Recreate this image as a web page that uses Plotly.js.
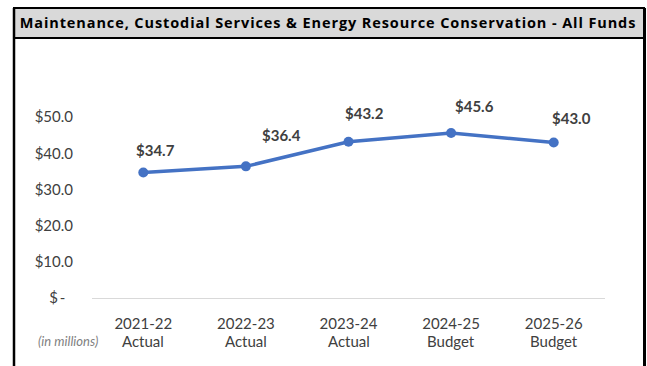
<!DOCTYPE html>
<html>
<head>
<meta charset="utf-8">
<script src="https://cdn.plot.ly/plotly-3.0.1.min.js"></script>
<style>
html,body{margin:0;padding:0;background:#fff;}
#chart{width:647px;height:366px;}
#chart .gtitle{letter-spacing:0.9px;}
</style>
</head>
<body>
<div id="chart"></div>
<script>
// ---- data ----
const years = ["2021-22", "2022-23", "2023-24", "2024-25", "2025-26"];
const kinds = ["Actual", "Actual", "Actual", "Budget", "Budget"];
const values = [34.7, 36.4, 43.2, 45.6, 43.0];
const valueLabels = ["$34.7", "$36.4", "$43.2", "$45.6", "$43.0"];
const yTickVals = [0, 10, 20, 30, 40, 50];
const yTickText = ["$\u2009-\u00a0\u00a0", "$10.0", "$20.0", "$30.0", "$40.0", "$50.0"];
const unitNote = "(in millions)";

// ---- layout geometry ----
const W = 647, H = 366;
const M = {l: 92, r: 42, t: 81, b: 68};
const PW = W - M.l - M.r, PH = H - M.t - M.b;
const px = x => (x - M.l) / PW;
const py = y => (H - M.b - y) / PH;

const labelDx = [12, 36, 16, 23, 18];
const labelDy = [23, 31, 29, 27, 24];

const annotations = [];
years.forEach((c, i) => {
  annotations.push({
    x: c, y: values[i], xref: 'x', yref: 'y',
    text: valueLabels[i], showarrow: false,
    xshift: labelDx[i], yshift: labelDy[i],
    font: {family: 'Lato', size: 15, color: '#404040', weight: 'bold'}
  });
  annotations.push({
    x: c, y: 0, xref: 'x', yref: 'paper',
    text: kinds[i], showarrow: false, yanchor: 'middle',
    yshift: -43,
    font: {family: 'Lato', size: 15, color: '#404040'}
  });
});
annotations.push({
  x: px(67.5), y: 0, xref: 'paper', yref: 'paper', xanchor: 'center', yanchor: 'middle',
  yshift: -43, text: '<i>' + unitNote + '</i>', showarrow: false,
  font: {family: 'Lato', size: 13, color: '#7f7f7f'}
});

const shapes = [
  {type: 'rect', xref: 'paper', yref: 'paper', x0: px(14), x1: px(644), y0: py(8), y1: py(38),
   fillcolor: '#d9d9d9', line: {color: '#000', width: 2}, layer: 'below'},
  {type: 'line', xref: 'paper', yref: 'paper', x0: px(14), x1: px(14), y0: py(8), y1: py(370),
   line: {color: '#000', width: 2.5}},
  {type: 'line', xref: 'paper', yref: 'paper', x0: px(644.5), x1: px(644.5), y0: py(8), y1: py(370),
   line: {color: '#000', width: 3}}
];

const trace = {
  type: 'scatter', mode: 'lines+markers',
  x: years, y: values,
  line: {color: '#4472C4', width: 3.5},
  marker: {color: '#4472C4', size: 10},
  hoverinfo: 'skip'
};

const layout = {
  width: W, height: H,
  margin: M,
  paper_bgcolor: '#fff', plot_bgcolor: 'rgba(0,0,0,0)',
  showlegend: false,
  title: {
    text: '<b>Maintenance, Custodial Services &amp; Energy Resource Conservation - All Funds</b>',
    x: 328 / W, xref: 'container', xanchor: 'center',
    y: 1 - 23 / H, yref: 'container', yanchor: 'middle',
    font: {family: 'Open Sans', size: 14.5, color: '#000'}
  },
  xaxis: {
    type: 'category', range: [-0.5, 4.5],
    showgrid: false, zeroline: false,
    showline: true, linecolor: '#d9d9d9', linewidth: 1,
    ticks: '', ticklabelstandoff: 12,
    tickfont: {family: 'Lato', size: 15, color: '#404040'},
    fixedrange: true
  },
  yaxis: {
    range: [0, 60], showgrid: false, zeroline: false, showline: false,
    tickvals: yTickVals, ticktext: yTickText,
    ticks: '', ticklabelstandoff: 18,
    tickfont: {family: 'Lato', size: 15, color: '#404040'},
    fixedrange: true
  },
  annotations: annotations,
  shapes: shapes
};

Plotly.newPlot('chart', [trace], layout, {displayModeBar: false, staticPlot: true});
</script>
</body>
</html>
